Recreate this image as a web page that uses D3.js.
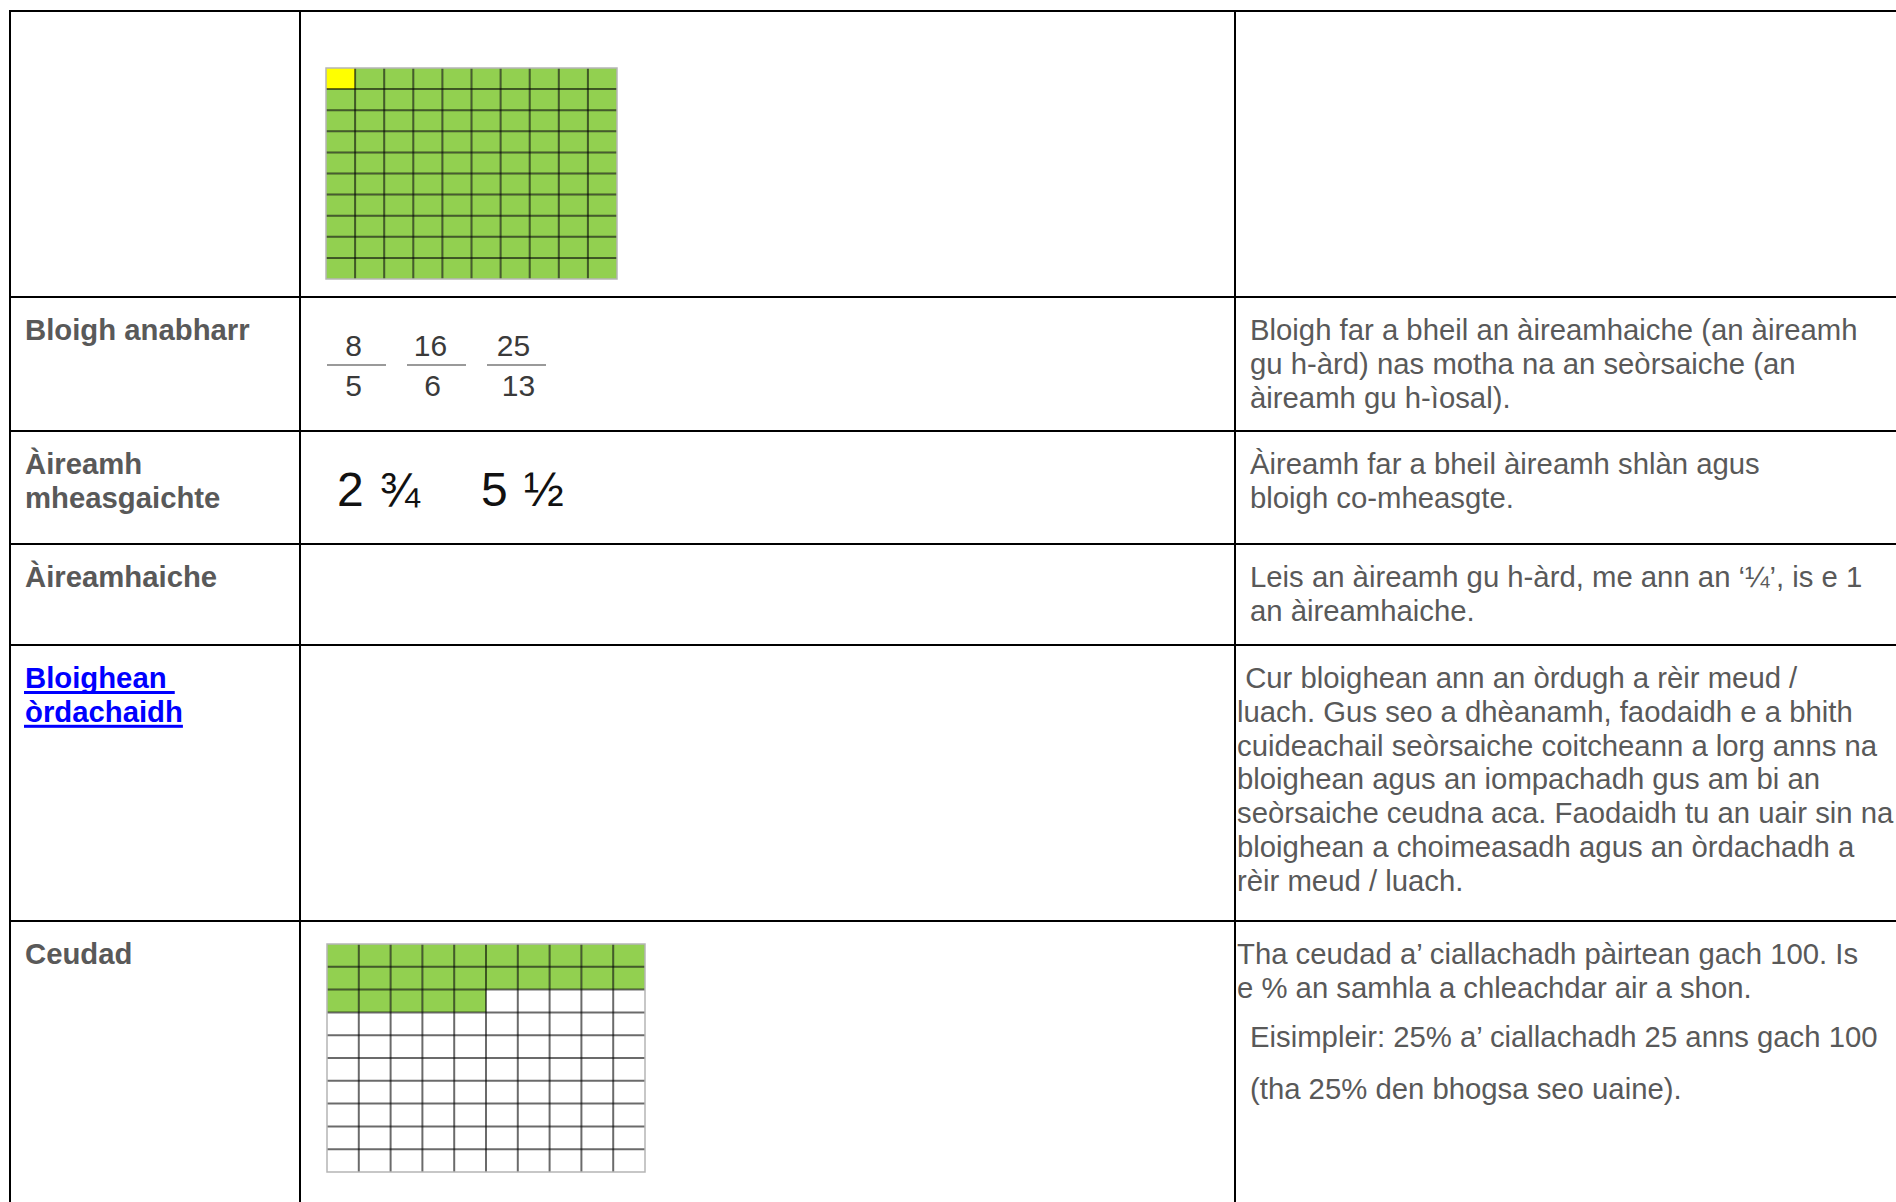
<!DOCTYPE html>
<html><head><meta charset="utf-8">
<script src="https://cdn.jsdelivr.net/npm/d3@7"></script>
<style>html,body{margin:0;padding:0;background:#fff;overflow:hidden}</style>
</head><body>
<svg id="chart" width="1896" height="1202"></svg>
<script>
// ---------------- DATA ----------------
const rowLabels = [
  [],
  ["Bloigh anabharr"],
  ["Àireamh", "mheasgaichte"],
  ["Àireamhaiche"],
  ["Bloighean ", "òrdachaidh"],
  ["Ceudad"]
];
const labelIsLink = [false, false, false, false, true, false];

const descriptions = [
  [],
  [["Bloigh far a bheil an àireamhaiche (an àireamh", "gu h-àrd) nas motha na an seòrsaiche (an", "àireamh gu h-ìosal)."]],
  [["Àireamh far a bheil àireamh shlàn agus", "bloigh co-mheasgte."]],
  [["Leis an àireamh gu h-àrd, me ann an ‘¼’, is e 1", "an àireamhaiche."]],
  [[" Cur bloighean ann an òrdugh a rèir meud /", "luach. Gus seo a dhèanamh, faodaidh e a bhith",
    "cuideachail seòrsaiche coitcheann a lorg anns na", "bloighean agus an iompachadh gus am bi an",
    "seòrsaiche ceudna aca. Faodaidh tu an uair sin na", "bloighean a choimeasadh agus an òrdachadh a",
    "rèir meud / luach."]],
  [["Tha ceudad a’ ciallachadh pàirtean gach 100. Is", "e % an samhla a chleachdar air a shon."],
   ["Eisimpleir: 25% a’ ciallachadh 25 anns gach 100"],
   ["(tha 25% den bhogsa seo uaine)."]]
];

const numerators = [8, 16, 25];
const denominators = [5, 6, 13];
const mixedWholes = ["2", "5"];
const mixedParts = ["¾", "½"];

const gridRowsN = 10, gridColsN = 10;
const tenthsGridYellow = 1;      // cells highlighted yellow in first grid
const percentGridShaded = 25;    // cells shaded green in percent grid

// ---------------- LAYOUT ----------------
const svg = d3.select("#chart");
const colX = [10, 300, 1235, 1910];
const rowY = [11, 297, 431, 544, 645, 921, 1215];
const textColor = "#595959";
const fontFam = "'Liberation Sans', Arial, Helvetica, sans-serif";
const fs = 29.3;
const lh = 33.8;
const baseOff = 43;
const descFlush = [false, false, false, false, true, true];
const paraIndentX = 1250, flushX = 1237;
const paraGaps = [0, 15, 19];
const numShift = [-3, -6, -3], denShift = [-3, -4, 2];

// table lines
const g = svg.append("g");
g.selectAll("line.h").data(rowY.slice(0, -1)).join("line")
  .attr("x1", colX[0] - 1).attr("x2", colX[3]).attr("y1", d => d).attr("y2", d => d)
  .attr("stroke", "#000").attr("stroke-width", 2);
g.selectAll("line.v").data(colX.slice(0, 3)).join("line")
  .attr("x1", d => d).attr("x2", d => d).attr("y1", rowY[0] - 1).attr("y2", rowY[rowY.length - 1])
  .attr("stroke", "#000").attr("stroke-width", 2);

// left labels
rowLabels.forEach((lines, i) => {
  lines.forEach((ln, j) => {
    const y = rowY[i] + baseOff + j * lh;
    const t = svg.append("text")
      .attr("x", 25).attr("y", y)
      .attr("font-family", fontFam).attr("font-size", fs).attr("font-weight", "bold")
      .attr("fill", labelIsLink[i] ? "#0000ff" : textColor)
      .style("white-space", "pre")
      .text(ln);
    if (labelIsLink[i]) {
      const w = t.node().getComputedTextLength();
      svg.append("rect").attr("x", 24).attr("y", y + 3).attr("width", w + 1).attr("height", 3)
        .attr("fill", "#0000ff");
    }
  });
});

// descriptions
descriptions.forEach((paras, i) => {
  let y = rowY[i] + baseOff;
  paras.forEach((lines, p) => {
    y += paraGaps[p] || 0;
    lines.forEach((ln) => {
      const x = (descFlush[i] && p === 0) ? flushX : paraIndentX;
      svg.append("text").attr("x", x).attr("y", y)
        .attr("font-family", fontFam).attr("font-size", fs).attr("fill", textColor)
        .style("white-space", "pre")
        .text(ln);
      y += lh;
    });
  });
});

// grids
function drawGrid(x0, y0, w, h, fillFn) {
  const cells = d3.range(gridRowsN * gridColsN).map(k => ({ r: Math.floor(k / gridColsN), c: k % gridColsN, k }));
  const xs = d3.scaleBand().domain(d3.range(gridColsN)).range([x0, x0 + w]);
  const ys = d3.scaleBand().domain(d3.range(gridRowsN)).range([y0, y0 + h]);
  const gg = svg.append("g");
  gg.selectAll("rect").data(cells).join("rect")
    .attr("x", d => xs(d.c)).attr("y", d => ys(d.r))
    .attr("width", xs.bandwidth()).attr("height", ys.bandwidth())
    .attr("fill", d => fillFn(d.k));
  gg.selectAll("line.gv").data(d3.range(1, gridColsN)).join("line")
    .attr("x1", d => xs(d)).attr("x2", d => xs(d)).attr("y1", y0).attr("y2", y0 + h)
    .attr("stroke", "rgba(0,0,0,0.58)").attr("stroke-width", 2);
  gg.selectAll("line.gh").data(d3.range(1, gridRowsN)).join("line")
    .attr("x1", x0).attr("x2", x0 + w).attr("y1", d => ys(d)).attr("y2", d => ys(d))
    .attr("stroke", "rgba(0,0,0,0.58)").attr("stroke-width", 2);
  gg.append("rect").attr("x", x0).attr("y", y0).attr("width", w).attr("height", h)
    .attr("fill", "none").attr("stroke", "#b5b5b5").attr("stroke-width", 1.5);
}
drawGrid(326, 68, 291, 211, k => k < tenthsGridYellow ? "#ffff00" : "#92d050");
drawGrid(327, 944, 318, 228, k => k < percentGridShaded ? "#92d050" : "#ffffff");

// improper fractions
const fx = d3.scaleBand().domain(d3.range(numerators.length)).range([327, 327 + 80 * numerators.length]);
const fg = svg.append("g");
fg.selectAll("line").data(numerators).join("line")
  .attr("x1", (d, i) => fx(i)).attr("x2", (d, i) => fx(i) + 59)
  .attr("y1", 365).attr("y2", 365).attr("stroke", "#9a9a9a").attr("stroke-width", 2);
fg.selectAll("text.num").data(numerators).join("text")
  .attr("x", (d, i) => fx(i) + 29.5 + numShift[i]).attr("y", 356).attr("text-anchor", "middle")
  .attr("font-family", fontFam).attr("font-size", 30).attr("fill", "#3a3a3a").text(d => d);
fg.selectAll("text.den").data(denominators).join("text")
  .attr("x", (d, i) => fx(i) + 29.5 + denShift[i]).attr("y", 396).attr("text-anchor", "middle")
  .attr("font-family", fontFam).attr("font-size", 30).attr("fill", "#3a3a3a").text(d => d);

// mixed numbers
const mx = d3.scalePoint().domain(d3.range(mixedWholes.length)).range([337, 481]);
const mg = svg.append("g");
mixedWholes.forEach((w, i) => {
  const t = mg.append("text").attr("x", mx(i)).attr("y", 506)
    .attr("font-family", fontFam).attr("font-size", 48).attr("fill", "#111");
  t.append("tspan").text(w);
  t.append("tspan").attr("dx", 16).text(mixedParts[i]);
});
</script>
</body></html>
